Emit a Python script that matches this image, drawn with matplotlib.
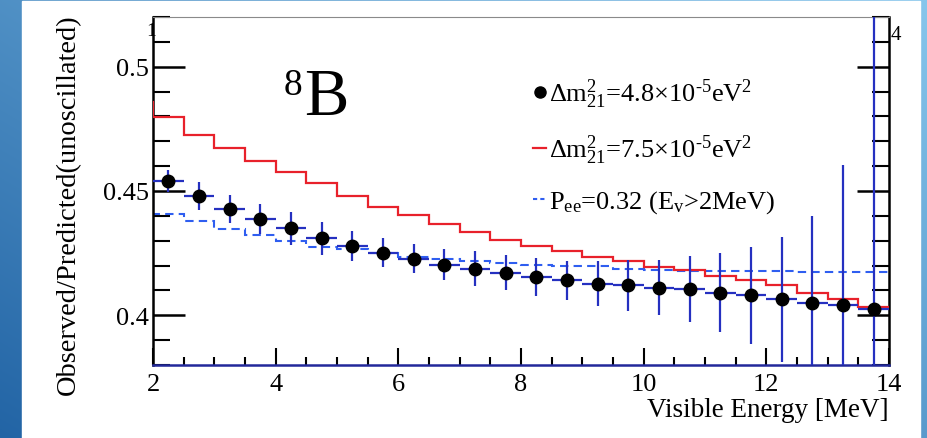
import numpy as np
import matplotlib
matplotlib.use("Agg")
import matplotlib.pyplot as plt
from matplotlib.lines import Line2D
from matplotlib.ticker import MultipleLocator, FixedLocator, FuncFormatter

plt.rcParams["font.family"] = ["Liberation Serif", "DejaVu Serif"]
plt.rcParams["mathtext.fontset"] = "custom"
plt.rcParams["mathtext.rm"] = "Liberation Serif"
plt.rcParams["mathtext.it"] = "Liberation Serif:italic"
plt.rcParams["mathtext.bf"] = "Liberation Serif:bold"

# ---- data -------------------------------------------------------------
# bin edges of the model histograms (first bin lies below the plotted range)
bin_edges = np.arange(1.5, 14.01, 0.5)

# model: dm2_21 = 7.5e-5 eV^2
ratio_dm75 = [0.4860, 0.4798, 0.4727, 0.4672, 0.4620, 0.4575, 0.4532, 0.4480,
              0.4436, 0.4405, 0.4367, 0.4337, 0.4303, 0.4280, 0.4258, 0.4235,
              0.4220, 0.4195, 0.4183, 0.4157, 0.4142, 0.4120, 0.4090, 0.4065,
              0.4035]

# model: flat Pee = 0.32 above 2 MeV
ratio_pee = [0.4453, 0.4407, 0.4380, 0.4347, 0.4325, 0.4300, 0.4275, 0.4265,
             0.4250, 0.4235, 0.4225, 0.4218, 0.4212, 0.4203, 0.4200, 0.4198,
             0.4186, 0.4183, 0.4180, 0.4180, 0.4180, 0.4178, 0.4175, 0.4175,
             0.4175]

# points: dm2_21 = 4.8e-5 eV^2
energy = np.arange(2.25, 14.0, 0.5)
ratio_dm48 = [0.4540, 0.4480, 0.4427, 0.4387, 0.4350, 0.4310, 0.4280, 0.4252,
              0.4227, 0.4204, 0.4187, 0.4171, 0.4154, 0.4140, 0.4127, 0.4120,
              0.4111, 0.4104, 0.4091, 0.4080, 0.4064, 0.4051, 0.4043, 0.4027]
ratio_err = [0.0045, 0.0055, 0.0057, 0.0060, 0.0066, 0.0066, 0.0060, 0.0058,
             0.0058, 0.0064, 0.0070, 0.0070, 0.0076, 0.0080, 0.0090, 0.0103,
             0.0110, 0.0133, 0.0160, 0.0196, 0.0250, 0.0350, 0.0560, 0.1500]
bin_half_width = 0.25

y_major = [0.40, 0.45, 0.50]

# ---- figure -----------------------------------------------------------
W, H = 927, 439
fig = plt.figure(figsize=(W / 100, H / 100), dpi=100)

# slide-style blue backdrop with a white panel on it
bg = fig.add_axes([0, 0, 1, 1], zorder=-10)
bg.set_axis_off()
yy, xx = np.mgrid[0:H, 0:W]
t = 0.55 * xx / W + 0.45 * (1 - yy / H)
c0 = np.array([34, 100, 165]) / 255
c1 = np.array([135, 198, 236]) / 255
img = c0[None, None, :] * (1 - t[..., None]) + c1[None, None, :] * t[..., None]
bg.imshow(img, extent=[0, W, H, 0], aspect="auto")
bg.add_patch(plt.Rectangle((22, 2), 898, H - 2, color="white"))
bg.set_xlim(0, W)
bg.set_ylim(H, 0)


def fx(px):
    return px / W


def fy(py):
    return 1 - py / H


ax = fig.add_axes([fx(153), fy(366), fx(889) - fx(153), fy(18) - fy(366)])
ax.set_facecolor("white")

red = "#e8212b"
blue_dash = "#2f5ef0"
blue_err = "#2530c0"

ax.stairs(ratio_pee, bin_edges, color=blue_dash, lw=1.5,
          linestyle=(0, (4, 2.5)), baseline=None, zorder=2)
ax.stairs(ratio_dm75, bin_edges, color=red, lw=1.6, baseline=None, zorder=3)
ax.errorbar(energy, ratio_dm48, xerr=bin_half_width, yerr=ratio_err,
            fmt="o", color="black", ms=9, ecolor=blue_err, elinewidth=1.6,
            capsize=0, zorder=4)

ax.set_xlim(2, 14)
ax.set_ylim(0.38, 0.52)

ax.xaxis.set_major_locator(MultipleLocator(2))
ax.xaxis.set_minor_locator(MultipleLocator(0.5))
ax.yaxis.set_major_locator(FixedLocator(y_major))
ax.yaxis.set_minor_locator(MultipleLocator(0.01))
ax.yaxis.set_major_formatter(FuncFormatter(lambda v, p: f"{v:g}"))

ax.tick_params(axis="x", which="major", direction="in", length=12, width=1.5,
               labelsize=19, pad=6, top=False, colors="black")
ax.tick_params(axis="x", which="minor", direction="in", length=6, width=1.5,
               top=False)
ax.tick_params(axis="y", which="major", direction="in", length=23, width=1.8,
               labelsize=19, pad=3, right=True)
ax.tick_params(axis="y", which="minor", direction="in", length=12, width=1.5,
               right=True)

for side in ("left", "right"):
    ax.spines[side].set_linewidth(1.8)
    ax.spines[side].set_color("black")
ax.spines["bottom"].set_linewidth(1.8)
ax.spines["bottom"].set_color("#22289a")
ax.spines["top"].set_linewidth(0.8)
ax.spines["top"].set_color("#8a8a8a")

ax.set_xlabel("Visible Energy [MeV]", fontsize=19.5, ha="right")
ax.xaxis.set_label_coords(1.0, -0.093)
ax.set_ylabel("Observed/Predicted(unoscillated)", fontsize=20.5)
ax.yaxis.set_label_coords(-0.098, 0.463)

# isotope tag
fig.text(fx(284), fy(95), "8", fontsize=27, ha="left", va="baseline")
fig.text(fx(304), fy(115), "B", fontsize=48, ha="left", va="baseline")

# stray axis digits
fig.text(fx(151), fy(32), "1", fontsize=14, ha="center", va="center")
fig.text(fx(896), fy(35), "4", fontsize=15, ha="center", va="center")

# legend
handles = [
    Line2D([], [], marker="o", color="black", ls="none", ms=8),
    Line2D([], [], color=red, lw=1.6),
    Line2D([], [], color=blue_dash, lw=1.5, ls=(0, (2, 1.5))),
]
labels = [
    r"$\Delta\mathrm{m}^{2}_{21}$=4.8$\times$10$^{\text{-5}}$eV$^{2}$",
    r"$\Delta\mathrm{m}^{2}_{21}$=7.5$\times$10$^{\text{-5}}$eV$^{2}$",
    r"P$_{\mathrm{ee}}$=0.32 (E$_{\mathrm{v}}$>2MeV)",
]
leg = ax.legend(handles, labels, loc="upper left",
                bbox_to_anchor=((533 - 153) / 736, (366 - 78) / 348),
                frameon=False, fontsize=19, handlelength=0.5,
                handletextpad=0.1, labelspacing=0.85, borderpad=0,
                borderaxespad=0)

fig.savefig("out.png", dpi=100)
